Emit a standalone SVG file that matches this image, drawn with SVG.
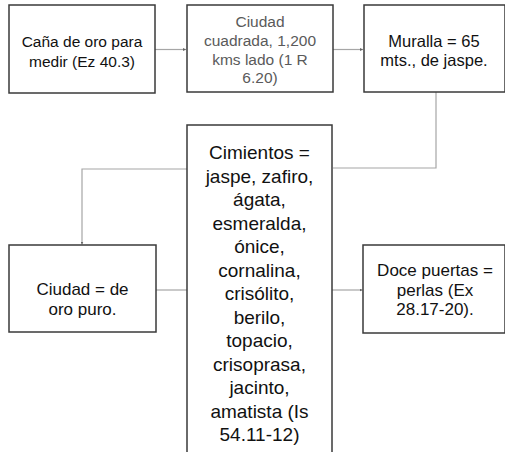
<svg xmlns="http://www.w3.org/2000/svg" width="505" height="452" viewBox="0 0 505 452">
<defs>
<style>
.box{fill:#fff;stroke:#3a3a3a;stroke-width:1.5}
.t{font-family:"Liberation Sans",Arial,sans-serif;fill:#111;text-anchor:middle}
.g{fill:#5a5a5a}
.c{fill:none;stroke:#a6a6a6;stroke-width:1.2}
</style>
<marker id="ah" viewBox="0 0 4 4" refX="4" refY="2" markerWidth="3" markerHeight="3" markerUnits="userSpaceOnUse" orient="auto">
<path d="M0,0 L4,2 L0,4 z" fill="#666"/>
</marker>
</defs>
<rect width="505" height="452" fill="#fff"/>
<g id="connectors">
<line class="c" x1="155" y1="49.5" x2="186" y2="49.5" marker-end="url(#ah)"/>
<line class="c" x1="333" y1="49.5" x2="363" y2="49.5" marker-end="url(#ah)"/>
<polyline class="c" points="436,92 436,168 333,168"/>
<polyline class="c" points="187,169 82,169 82,244.5" marker-end="url(#ah)"/>
<line class="c" x1="187" y1="290" x2="156" y2="290"/>
<line class="c" x1="332" y1="290" x2="362.5" y2="290" marker-end="url(#ah)"/>
</g>
<g id="n1">
<rect class="box" x="9" y="5" width="146" height="88"/>
<text class="t" font-size="15.5" x="82" y="47">Caña de oro para</text>
<text class="t" font-size="15.5" x="82" y="67">medir (Ez 40.3)</text>
</g>
<g id="n2">
<rect class="box" x="187" y="5" width="146" height="87"/>
<text class="t g" font-size="15.5" x="260" y="27">Ciudad</text>
<text class="t g" font-size="15.5" x="260" y="46">cuadrada, 1,200</text>
<text class="t g" font-size="15.5" x="260" y="64.5">kms lado (1 R</text>
<text class="t g" font-size="15.5" x="260" y="83">6.20)</text>
</g>
<g id="n3">
<rect class="box" x="364" y="5" width="141" height="87"/>
<text class="t" font-size="16.5" x="434" y="47">Muralla = 65</text>
<text class="t" font-size="16.5" x="434" y="66">mts., de jaspe.</text>
</g>
<g id="n4">
<rect class="box" x="187" y="125" width="145" height="340"/>
<g class="t" font-size="19">
<text x="259.5" y="159">Cimientos =</text>
<text x="259.5" y="182.5">jaspe, zafiro,</text>
<text x="259.5" y="206">ágata,</text>
<text x="259.5" y="229.5">esmeralda,</text>
<text x="259.5" y="253">ónice,</text>
<text x="259.5" y="276.5">cornalina,</text>
<text x="259.5" y="300">crisólito,</text>
<text x="259.5" y="323.5">berilo,</text>
<text x="259.5" y="347">topacio,</text>
<text x="259.5" y="370.5">crisoprasa,</text>
<text x="259.5" y="394">jacinto,</text>
<text x="259.5" y="417.5">amatista (Is</text>
<text x="259.5" y="441">54.11-12)</text>
</g>
</g>
<g id="n5">
<rect class="box" x="9" y="245" width="147" height="87"/>
<text class="t" font-size="17" x="82.5" y="295">Ciudad = de</text>
<text class="t" font-size="17" x="82.5" y="315">oro puro.</text>
</g>
<g id="n6">
<rect class="box" x="363" y="245" width="142" height="88"/>
<text class="t" font-size="17" x="435" y="276">Doce puertas =</text>
<text class="t" font-size="17" x="435" y="296">perlas (Ex</text>
<text class="t" font-size="17" x="435" y="315">28.17-20).</text>
</g>
</svg>
